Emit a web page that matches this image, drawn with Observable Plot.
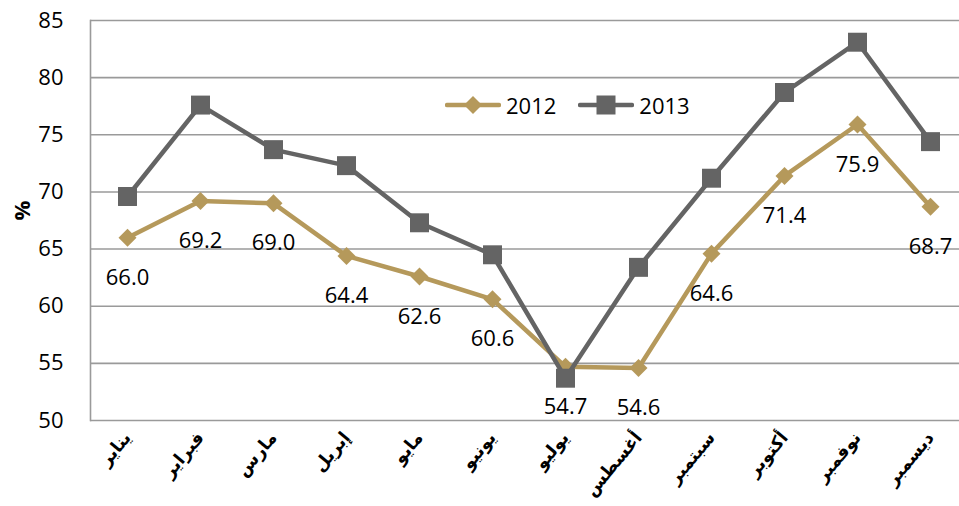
<!DOCTYPE html>
<html><head><meta charset="utf-8">
<script src="https://cdn.jsdelivr.net/npm/d3@7"></script>
<script src="https://cdn.jsdelivr.net/npm/@observablehq/plot@0.6"></script>
<style>
body{margin:0;background:#fff}
#wrap{position:relative;width:959px;height:506px;font-family:"Open Sans",sans-serif}
#legend{position:absolute;left:445px;top:90px;display:flex;align-items:center;font-size:22px;color:#000}
#legend .item{display:flex;align-items:center;margin-right:22px}
#legend svg{margin-right:5px}
</style>
</head><body><div id="wrap"></div>
<script>
const months = ["يناير","فبراير","مارس","إبريل","مايو","يونيو","يوليو","أغسطس","سبتمبر","أكتوبر","نوفمبر","ديسمبر"];
const v2012 = [66.0, 69.2, 69.0, 64.4, 62.6, 60.6, 54.7, 54.6, 64.6, 71.4, 75.9, 68.7];
const v2013 = [69.6, 77.6, 73.7, 72.3, 67.3, 64.5, 53.7, 63.4, 71.2, 78.7, 83.1, 74.4];
const seriesNames = ["2012", "2013"];
const yTicks = [50, 55, 60, 65, 70, 75, 80, 85];
const yLabel = "%";

const colors = {"2012": "#b5995b", "2013": "#646464"};
const d12 = months.map((m, i) => ({month: m, value: v2012[i]}));
const d13 = months.map((m, i) => ({month: m, value: v2013[i]}));

const chart = Plot.plot({
  width: 959, height: 506,
  marginLeft: 90, marginRight: 0, marginTop: 20, marginBottom: 86,
  style: {fontFamily: "Open Sans, sans-serif", background: "#fff"},
  x: {type: "point", domain: months, range: [90, 966], padding: 0.5},
  y: {domain: [50, 85]},
  marks: [
    Plot.ruleY(yTicks, {stroke: "#9a9a9a", strokeWidth: 1.6}),
    Plot.frame({anchor: "left", stroke: "#9a9a9a", strokeWidth: 1.6}),
    Plot.axisY({ticks: yTicks, tickSize: 0, tickPadding: 27, fontSize: 22, fill: "#000", label: null}),
    Plot.axisX({tickRotate: -50, tickSize: 0, tickPadding: 14, fontSize: 17.5, fontWeight: "bold", fontFamily: "DejaVu Sans", fill: "#000", label: null}),
    Plot.text([yLabel], {frameAnchor: "left", dx: -68, rotate: -90, fontSize: 22, fontWeight: "bold", fill: "#000"}),
    Plot.line(d12, {x: "month", y: "value", stroke: colors["2012"], strokeWidth: 4.5}),
    Plot.dot(d12, {x: "month", y: "value", symbol: "diamond2", r: 8.1, fill: colors["2012"], stroke: "none"}),
    Plot.text(d12, {x: "month", y: "value", text: d => d.value.toFixed(1), dy: 40, fontSize: 22, fill: "#000"}),
    Plot.line(d13, {x: "month", y: "value", stroke: colors["2013"], strokeWidth: 4.5}),
    Plot.dot(d13, {x: "month", y: "value", symbol: "square", r: 10.7, fill: colors["2013"], stroke: "none"})
  ]
});
const wrap = document.getElementById("wrap");
wrap.appendChild(chart);

// legend
const legend = d3.select(wrap).append("div").attr("id", "legend");
seriesNames.forEach(name => {
  const item = legend.append("div").attr("class", "item");
  const svg = item.append("svg").attr("width", 56).attr("height", 22);
  svg.append("line").attr("x1", 2).attr("x2", 54).attr("y1", 11).attr("y2", 11)
    .attr("stroke", colors[name]).attr("stroke-width", 4.5).attr("stroke-linecap", "round");
  if (name === "2012") {
    svg.append("path").attr("d", "M28,2L37,11L28,20L19,11Z").attr("fill", colors[name]);
  } else {
    svg.append("rect").attr("x", 18.5).attr("y", 1.5).attr("width", 19).attr("height", 19).attr("fill", colors[name]);
  }
  item.append("span").text(name);
});
</script>
</body></html>
